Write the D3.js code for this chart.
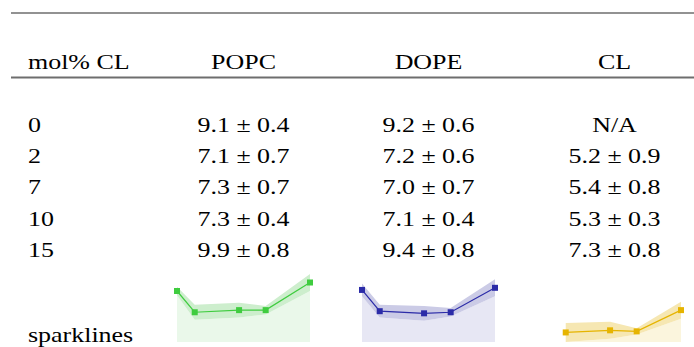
<!DOCTYPE html>
<html><head><meta charset="utf-8">
<script src="https://cdn.jsdelivr.net/npm/d3@7"></script>
<style>html,body{margin:0;padding:0;background:#fff;}svg{display:block;}</style>
</head><body>
<svg id="c" width="694" height="347"></svg>
<script>
const molCL = [0, 2, 7, 10, 15];
const columns = ["POPC", "DOPE", "CL"];
const popcMean = [9.1, 7.1, 7.3, 7.3, 9.9];
const popcErr  = [0.4, 0.7, 0.7, 0.4, 0.8];
const dopeMean = [9.2, 7.2, 7.0, 7.1, 9.4];
const dopeErr  = [0.6, 0.6, 0.7, 0.4, 0.8];
const clMean   = [null, 5.2, 5.4, 5.3, 7.3];
const clErr    = [null, 0.9, 0.8, 0.3, 0.8];
const colors = {
  POPC: {line:"#3fcc3f", band:"#cdeecd", area:"#eaf8ea"},
  DOPE: {line:"#2b2ba8", band:"#cbcbe6", area:"#e7e7f4"},
  CL:   {line:"#e6b400", band:"#f6e7b2", area:"#fbf5dd"}
};
const series = [
  {name:"POPC", mean:popcMean, err:popcErr},
  {name:"DOPE", mean:dopeMean, err:dopeErr},
  {name:"CL",   mean:clMean,   err:clErr}
];

const svg = d3.select("#c");
const FONT = "'Liberation Serif','Times New Roman',serif";
const SX = 1.18;
const colCenters = [243.5, 428.5, 614.5];
const headerY = 68.5;
const rowY = d3.scaleLinear().domain([0, molCL.length-1]).range([131.5, 257]);

function txt(x, y, s, anchor) {
  svg.append("text")
    .attr("transform", `translate(${x},${y}) scale(${SX},1)`)
    .attr("text-anchor", anchor)
    .attr("font-family", FONT)
    .attr("font-size", 22)
    .attr("fill", "#000")
    .text(s);
}

// rules
svg.append("line").attr("x1", 11).attr("x2", 694).attr("y1", 13).attr("y2", 13)
  .attr("stroke", "#6e6e6e").attr("stroke-width", 1.4);
svg.append("line").attr("x1", 11).attr("x2", 694).attr("y1", 77.5).attr("y2", 77.5)
  .attr("stroke", "#6e6e6e").attr("stroke-width", 1.8);

// header
txt(28, headerY, "mol% CL", "start");
columns.forEach((c, i) => txt(colCenters[i], headerY, c, "middle"));

// rows
molCL.forEach((m, r) => {
  txt(28, rowY(r), String(m), "start");
  series.forEach((s, i) => {
    const v = s.mean[r];
    const label = v == null ? "N/A" : `${v.toFixed(1)} ± ${s.err[r].toFixed(1)}`;
    txt(colCenters[i], rowY(r), label, "middle");
  });
});

txt(28, 342, "sparklines", "start");

// sparklines
const sparkW = 133;
const y = d3.scaleLinear().domain([4.3, 10.7]).range([342, 274]);
series.forEach((s, i) => {
  const x0 = colCenters[i] - sparkW/2;
  const x = d3.scaleLinear().domain([0, 15]).range([x0, x0 + sparkW]);
  const pts = molCL.map((m, k) => ({m, v: s.mean[k], e: s.err[k]})).filter(d => d.v != null);
  const col = colors[s.name];
  const g = svg.append("g");
  g.append("path").datum(pts)
    .attr("d", d3.area().x(d => x(d.m)).y0(y(4.3)).y1(d => y(d.v - d.e)))
    .attr("fill", col.area);
  g.append("path").datum(pts)
    .attr("d", d3.area().x(d => x(d.m)).y0(d => y(d.v - d.e)).y1(d => y(d.v + d.e)))
    .attr("fill", col.band);
  g.append("path").datum(pts)
    .attr("d", d3.line().x(d => x(d.m)).y(d => y(d.v)))
    .attr("fill", "none").attr("stroke", col.line).attr("stroke-width", 1.2);
  g.selectAll("rect").data(pts).join("rect")
    .attr("x", d => x(d.m) - 3).attr("y", d => y(d.v) - 3)
    .attr("width", 6).attr("height", 6).attr("fill", col.line);
});
</script>
</body></html>
